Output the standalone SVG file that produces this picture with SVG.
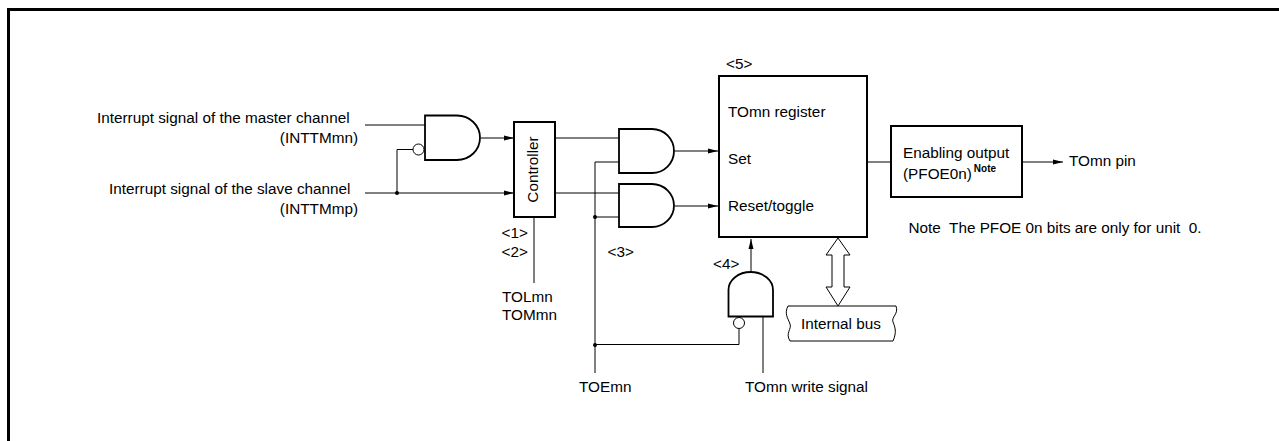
<svg xmlns="http://www.w3.org/2000/svg" width="1279" height="441" viewBox="0 0 1279 441">
<style>
text{font-family:"Liberation Sans",Arial,sans-serif;font-size:15.3px;fill:#000;white-space:pre}
.w{fill:none;stroke:#000;stroke-width:1}
.o{fill:#fff;stroke:#000;stroke-width:1}
.g{fill:#fff;stroke:#000;stroke-width:1.8}
.b{fill:#fff;stroke:#000;stroke-width:2}
.d{fill:#000;stroke:none}
.e{text-anchor:end}
.n{font-size:10px;font-weight:bold}
</style>
<defs>
<marker id="a" markerWidth="10" markerHeight="6" refX="10" refY="3" orient="auto" markerUnits="userSpaceOnUse"><path d="M0 0.500L10 3L0 5.500z" fill="#000"/></marker>
</defs>
<path id="frame" d="M8.500 441V9.500H1279" fill="none" stroke="#000" stroke-width="3"/>
<g id="connectors">
<path class="w" d="M365 125H425"/>
<path class="w" d="M365 193H514" marker-end="url(#a)"/>
<path class="w" d="M397 193V149.500H413"/>
<path class="w" d="M481 138H514" marker-end="url(#a)"/>
<path class="w" d="M556 138H619"/>
<path class="w" d="M556 193H619"/>
<path class="w" d="M619 162H595V373"/>
<path class="w" d="M595 217H619"/>
<path class="w" d="M675 151H718" marker-end="url(#a)"/>
<path class="w" d="M675 206H718" marker-end="url(#a)"/>
<path class="w" d="M534 217V283"/>
<path class="w" d="M751 272V239" marker-end="url(#a)"/>
<path class="w" d="M595 344.500H739V329"/>
<path class="w" d="M763 317V373"/>
<path class="w" d="M868 162H891"/>
<path class="w" d="M1022 162H1063" marker-end="url(#a)"/>
<circle cx="397" cy="193" r="2" class="d"/>
<circle cx="595" cy="217" r="2" class="d"/>
<circle cx="595" cy="345" r="2" class="d"/>
</g>
<g id="and1"><path class="g" d="M425 115.500H457A23 22.250 0 0 1 457 160H425Z"/><circle class="o" cx="418.500" cy="149.500" r="5.500"/></g>
<g id="controller"><rect class="b" x="514" y="122" width="41" height="95"/><text transform="translate(538 169.500) rotate(-90)" text-anchor="middle">Controller</text></g>
<g id="and2"><path class="g" d="M619 129H652A22 22 0 0 1 652 173H619Z"/></g>
<g id="and3"><path class="g" d="M619 184H652A22 21.500 0 0 1 652 227H619Z"/></g>
<g id="and4"><path class="g" d="M728.500 316.500V290A22.250 18 0 0 1 773 290V316.500Z"/><circle class="o" cx="739" cy="323" r="5.500"/></g>
<g id="register"><rect class="b" x="719" y="76" width="148" height="161"/><text x="728" y="117">TOmn register</text><text x="728" y="164">Set</text><text x="728" y="211">Reset/toggle</text></g>
<g id="enable"><rect class="b" x="891" y="126" width="131" height="71"/><text x="903" y="158">Enabling output</text><text x="903" y="179">(PFOE0n)<tspan class="n" dx="2" dy="-7">Note</tspan></text></g>
<g id="bus-arrow"><path class="o" d="M838 238L850 255H844V287H850L838 306L826 287H832V255H826Z"/></g>
<g id="bus"><path class="o" d="M788 306H896C899 314 891 317 893 322C895 327 897 332 893 341H790C785 333 792 329 790 324C788 318 784 314 788 306Z"/><text x="801" y="329">Internal bus</text></g>
<text x="97" y="123">Interrupt signal of the master channel</text>
<text class="e" x="358" y="143">(INTTMmn)</text>
<text x="109" y="194">Interrupt signal of the slave channel</text>
<text class="e" x="358" y="214">(INTTMmp)</text>
<text x="501.500" y="238">&lt;1&gt;</text>
<text x="501.500" y="257">&lt;2&gt;</text>
<text x="607.500" y="257">&lt;3&gt;</text>
<text x="713" y="269">&lt;4&gt;</text>
<text x="726" y="69">&lt;5&gt;</text>
<text x="502" y="302">TOLmn</text>
<text x="502" y="320">TOMmn</text>
<text x="579" y="392">TOEmn</text>
<text x="745" y="392">TOmn write signal</text>
<text x="1069" y="166">TOmn pin</text>
<text x="908.500" y="233">Note  The PFOE 0n bits are only for unit  0.</text>
</svg>
